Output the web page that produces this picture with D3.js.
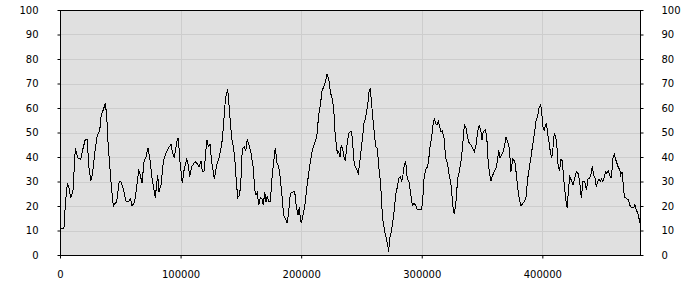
<!DOCTYPE html>
<html>
<head>
<meta charset="utf-8">
<script src="https://cdn.jsdelivr.net/npm/d3@7"></script>
<style>
  body { margin: 0; background: #fff; }
  svg { display: block; }
  .tick text { font-family: "DejaVu Sans", sans-serif; font-size: 10px; fill: #000; }
</style>
</head>
<body>
<svg width="700" height="300"></svg>
<script>
var svg = d3.select('svg');

// Sample positions
var xs = [0, 3300, 4400, 6100, 7200, 8900, 10800, 12700, 14900, 17200, 19100, 21000, 22600, 23800, 25500,
  26800, 28800, 30900, 32900, 34200, 35700, 37600, 38700, 39800, 41200, 42500, 44200, 45400, 47000, 49200,
  50800, 52500, 54700, 57000, 58600, 59700, 61900, 63600, 65300, 66300, 68000, 69700, 71300, 73000, 74600,
  76300, 79000, 81000, 82100, 83800, 85700, 87700, 89800, 92100, 93100, 94800, 96000, 96800, 98100, 99500,
  101400, 103100, 105100, 106400, 107600, 109200, 110500, 112000, 113600, 115300, 116900, 118000, 119700, 120800, 121900,
  123000, 124400, 125800, 128000, 130000, 131900, 134100, 135400, 136800, 137900, 139100, 140200, 141200, 142400, 144000,
  145100, 146200, 147400, 149000, 150100, 151200, 152800, 154000, 155300, 156700, 158400, 160300, 161500, 162500, 163600,
  164800, 166100, 167500, 168600, 169800, 170800, 171900, 173100, 174400, 175800, 177200, 178500, 180000, 181400, 182700,
  184100, 185500, 186800, 188300, 189700, 191000, 193000, 194600, 196000, 197400, 198500, 199300, 200100, 201500, 202900,
  204300, 205700, 207600, 209600, 211700, 213100, 214500, 215900, 217300, 218700, 220000, 221400, 222800, 224200, 225600,
  227000, 227800, 228900, 230000, 231100, 232200, 233300, 234400, 235500, 236600, 238000, 239400, 240700, 241900, 243000,
  244100, 245700, 247400, 249000, 250700, 252100, 252900, 254000, 255200, 256300, 257300, 258500, 259600, 260600, 261800,
  263100, 264500, 266000, 266800, 267900, 269300, 270600, 272000, 272600, 273400, 274500, 275600, 277000, 278400, 280100,
  281100, 282200, 283400, 284400, 285500, 286700, 288000, 289400, 290800, 292200, 293600, 295000, 296300, 298300, 300000,
  301000, 302100, 303800, 304900, 306000, 307100, 308300, 309300, 310400, 311600, 312600, 313700, 314900, 316000, 317000,
  318500, 319900, 321500, 322800, 324300, 325700, 327000, 328400, 329800, 331100, 332500, 334000, 335300, 336700, 338100,
  339400, 340800, 342300, 343600, 345000, 346400, 347700, 348900, 350000, 351000, 352700, 353900, 354900, 356000, 357400,
  358800, 360200, 361600, 363000, 363800, 364900, 366000, 367600, 368800, 369900, 371300, 372600, 374000, 375400, 377100,
  378200, 379600, 380900, 382300, 383700, 385400, 386500, 387900, 389200, 390600, 392000, 393300, 394700, 396200, 397500,
  398600, 399500, 400300, 401600, 403300, 404400, 405500, 406600, 407800, 408800, 409900, 411100, 412200, 413200, 414400,
  415500, 416600, 417700, 418800, 419900, 420700, 421500, 422700, 424000, 425400, 426800, 428200, 429600, 431000, 432300,
  433700, 435100, 436500, 437900, 439300, 440600, 441400, 442600, 443700, 444800, 445900, 447000, 448100, 449200, 450300,
  451400, 452500, 453600, 454700, 455900, 456900, 457800, 458600, 459700, 460800, 461900, 463000, 464200, 465000, 466100,
  466900, 468000, 469600, 471300, 472500, 474100, 475800, 476800, 477900, 479300, 481000];

// Values at those positions
var ys = [11, 11, 20.4, 29.3, 28, 23.1, 26.5, 43.5, 39.5, 39, 43.5, 47.2, 47.2, 36.7, 30.2,
  32.6, 41.5, 49, 50.6, 57.1, 59, 61.9, 57, 46.3, 36.7, 28.6, 20, 21, 21.7, 30.2,
  29.7, 27, 22, 22, 23, 20, 21.6, 27.9, 34.3, 33.3, 29.3, 38.1, 40.1, 43.8, 39,
  31.3, 23.4, 32.6, 25.8, 28.6, 38.1, 41.5, 43.5, 45.2, 42.2, 39.7, 43.5, 46.3, 47.9, 38.1,
  29.3, 35.4, 39, 36.7, 32, 36.1, 37, 38.1, 37.4, 36.1, 38.4, 34, 34.3, 42.2, 46.9,
  44.2, 45.2, 38.1, 31, 36.7, 39.5, 45, 51.7, 61.2, 66, 67.3, 61.2, 54.4, 47.6, 43.5,
  38.1, 30, 23.4, 24.5, 31.3, 43.5, 44.2, 42.4, 47.2, 45, 41.5, 35.4, 26.5, 24.5, 25.6,
  20.4, 23.4, 23.1, 20.4, 25.8, 21.5, 24, 21.8, 21.8, 31.3, 38.1, 43.8, 37.4, 36, 31.3,
  24, 16.3, 15, 12.9, 17.7, 25.2, 25.6, 26.1, 19.7, 16.3, 19.7, 15, 12.9, 16.3, 19.7,
  25.8, 31.3, 38.1, 43.5, 46.3, 49, 57.1, 61.2, 66.9, 68.7, 70.7, 73.7, 72, 66.6, 63.9,
  59.9, 51.7, 46.3, 41.5, 42.2, 40.1, 45, 43.5, 40.1, 38.4, 45, 49.7, 50.3, 50.2, 43.5,
  36.7, 35.4, 33.3, 39.5, 47, 53.7, 55.1, 57.8, 61.2, 66.7, 68, 61.2, 55.1, 50.3, 44.2,
  43.5, 35.4, 28.6, 20.4, 13.6, 9.5, 6.8, 3.4, 1.4, 6.8, 8.8, 12.2, 17.7, 24.5, 28.6,
  31.3, 32, 30, 32.6, 36.7, 38.1, 31.3, 30, 25.2, 20.4, 21, 20.4, 18.4, 18.4, 18.8,
  24, 32.6, 35.4, 36.1, 40.1, 45, 48.4, 53.1, 55.8, 53.7, 53.1, 54.7, 52.4, 50.3, 50.6,
  47.6, 39.5, 37, 32.6, 28.6, 20.4, 16.6, 21.8, 31.3, 34, 38.1, 45, 53.1, 51.7, 47.6,
  45.6, 45, 43.5, 42.2, 45, 50.3, 53.1, 51, 47, 50.3, 51, 48.3, 39.5, 34, 30.2,
  32.6, 34, 35.4, 39, 43, 39.5, 40.8, 42.2, 45, 48, 46.3, 43.5, 34, 39.1, 38.4,
  34, 27.2, 23.1, 20, 21, 22, 23.8, 31.3, 35.4, 40.1, 45, 49, 54.4, 57.1, 60.5,
  61.2, 58.5, 52.4, 51, 54, 49.7, 46.3, 42.2, 39.5, 43.5, 49.7, 48.3, 43.5, 35.4, 34.7,
  39, 38.4, 31.3, 25.8, 21, 19.3, 25.8, 32, 30.6, 28.6, 31.3, 34, 33.3, 30, 23.4,
  30, 30.2, 26.5, 31, 31.3, 33.3, 36.1, 32.6, 31.3, 27.9, 30, 31, 30, 31, 30,
  32, 34, 33.3, 34.3, 32.6, 31.3, 34.7, 39.5, 41.1, 39, 37.4, 35.8, 34.7, 32.6, 34,
  30, 23.8, 23.1, 22.6, 20.4, 19.3, 19.3, 20.6, 18.4, 17, 12.9];

// Tick values
var xTicks = [0, 100000, 200000, 300000, 400000];
var yTicks = [0, 10, 20, 30, 40, 50, 60, 70, 80, 90, 100];

var margin = { left: 60, right: 60, top: 10, bottom: 45 };
var width = 700 - margin.left - margin.right;
var height = 300 - margin.top - margin.bottom;

var x = d3.scaleLinear().domain([0, 481000]).range([0, width]);
var y = d3.scaleLinear().domain([0, 100]).range([height, 0]);

var g = svg.append("g")
  .attr("transform", "translate(" + margin.left + "," + margin.top + ")");

// Plot background
g.append("rect")
  .attr("width", width)
  .attr("height", height)
  .attr("fill", "#e0e0e0");

// Grid lines
g.selectAll(".hgrid")
  .data(yTicks.filter(d => d > 0 && d < 100))
  .enter().append("line")
  .attr("class", "hgrid")
  .attr("x1", 0).attr("x2", width)
  .attr("y1", d => Math.round(y(d)) + 0.5)
  .attr("y2", d => Math.round(y(d)) + 0.5)
  .attr("stroke", "#cdcdcd");

g.selectAll(".vgrid")
  .data(xTicks.filter(d => d > 0))
  .enter().append("line")
  .attr("class", "vgrid")
  .attr("y1", 0).attr("y2", height)
  .attr("x1", d => Math.round(x(d)) + 0.5)
  .attr("x2", d => Math.round(x(d)) + 0.5)
  .attr("stroke", "#cdcdcd");

// Data line
var line = d3.line()
  .x((d, i) => x(xs[i]))
  .y(d => y(d));

g.append("path")
  .datum(ys)
  .attr("d", line)
  .attr("fill", "none")
  .attr("stroke", "#000")
  .attr("stroke-width", 1)
  .style("shape-rendering", "crispEdges");

// Frame
g.append("rect")
  .attr("x", 0.5).attr("y", 0.5)
  .attr("width", width).attr("height", height)
  .attr("fill", "none")
  .attr("stroke", "#000");

// Axes
var leftAxis = d3.axisLeft(y).tickValues(yTicks).tickSize(3).tickPadding(19);
var rightAxis = d3.axisRight(y).tickValues(yTicks).tickSize(3).tickPadding(18);
var bottomAxis = d3.axisBottom(x).tickValues(xTicks).tickSize(3).tickPadding(12)
  .tickFormat(d3.format("d"));

g.append("g").attr("transform", "translate(0.5,0)").call(leftAxis);
g.append("g").attr("transform", "translate(" + (width + 0.5) + ",0)").call(rightAxis);
g.append("g").attr("transform", "translate(0," + (height + 0.5) + ")").call(bottomAxis);

svg.selectAll(".domain").remove();
svg.selectAll(".tick line").attr("stroke", "#000");
</script>
</body>
</html>
